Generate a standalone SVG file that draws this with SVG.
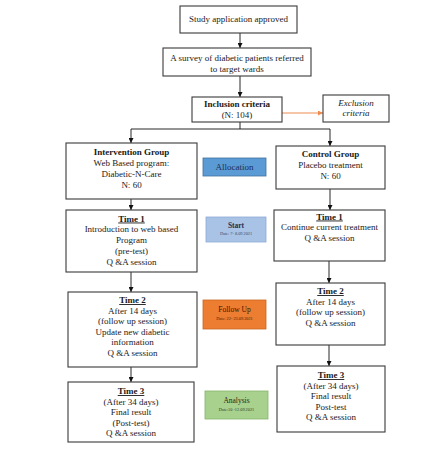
<svg xmlns="http://www.w3.org/2000/svg" width="423" height="457" viewBox="0 0 423 457">
<defs>
<style>
text{font-family:"Liberation Serif","Times New Roman",serif;font-size:9px;fill:#1a1a1a;text-anchor:middle}
.box{fill:#fff;stroke:#3a3a3a;stroke-width:1.1}
.b{font-weight:bold}
.u{font-weight:bold;text-decoration:underline}
.i{font-style:italic}
.c{fill:none;stroke:#111;stroke-width:0.9}
.lab{font-size:7.5px}
.date{font-size:4.3px}
</style>
<marker id="ah" viewBox="0 0 6 6" refX="6" refY="3" markerWidth="5" markerHeight="5" markerUnits="userSpaceOnUse" orient="auto"><path d="M0,0L6,3L0,6z" fill="#111"/></marker>
<marker id="aho" viewBox="0 0 6 6" refX="6" refY="3" markerWidth="5" markerHeight="5" markerUnits="userSpaceOnUse" orient="auto"><path d="M0,0L6,3L0,6z" fill="#ee8a4e"/></marker>
</defs>
<rect width="423" height="457" fill="#fff"/>
<g id="connectors">
<line class="c" x1="240" y1="33" x2="240" y2="48" marker-end="url(#ah)"/>
<line class="c" x1="240" y1="76" x2="240" y2="97" marker-end="url(#ah)"/>
<line x1="282" y1="113" x2="323" y2="113" stroke="#ee8a4e" stroke-width="1" marker-end="url(#aho)"/>
<polyline class="c" points="240,122 240,129"/>
<polyline class="c" points="131,129 330,129"/>
<line class="c" x1="131" y1="129" x2="131" y2="143" marker-end="url(#ah)"/>
<line class="c" x1="330" y1="129" x2="330" y2="146" marker-end="url(#ah)"/>
<line class="c" x1="131" y1="199" x2="131" y2="210" marker-end="url(#ah)"/>
<line class="c" x1="330" y1="189" x2="330" y2="210" marker-end="url(#ah)"/>
<line class="c" x1="131" y1="272" x2="131" y2="292" marker-end="url(#ah)"/>
<line class="c" x1="329" y1="261" x2="329" y2="283" marker-end="url(#ah)"/>
<line class="c" x1="131" y1="367" x2="131" y2="382" marker-end="url(#ah)"/>
<line class="c" x1="329" y1="345" x2="329" y2="366" marker-end="url(#ah)"/>
</g>
<g id="study">
<rect class="box" x="180" y="6" width="117" height="27"/>
<text x="238.5" y="22">Study application approved</text>
</g>
<g id="survey">
<rect class="box" x="163" y="48" width="148" height="28"/>
<text x="237" y="61">A survey of diabetic patients referred</text>
<text x="237" y="72">to target wards</text>
</g>
<g id="inclusion">
<rect class="box" x="192" y="97" width="90" height="25"/>
<text class="b" x="237" y="107">Inclusion criteria</text>
<text x="237" y="118">(N: 104)</text>
</g>
<g id="exclusion">
<rect class="box" x="323" y="95" width="66" height="27"/>
<text class="i" x="356" y="105.5">Exclusion</text>
<text class="i" x="356" y="116">criteria</text>
</g>
<g id="intervention">
<rect class="box" x="66" y="143" width="131" height="56"/>
<text class="b" x="131.5" y="155">Intervention Group</text>
<text x="131.5" y="166">Web Based program:</text>
<text x="131.5" y="177">Diabetic-N-Care</text>
<text x="131.5" y="188">N: 60</text>
</g>
<g id="allocation">
<rect x="203" y="158" width="63" height="18" fill="#5b9bd5" stroke="#41719c" stroke-width="0.8"/>
<text x="234.5" y="170" fill="#1c2f55" style="fill:#1c2f55">Allocation</text>
</g>
<g id="control">
<rect class="box" x="276" y="146" width="109" height="43"/>
<text class="b" x="330.5" y="157">Control Group</text>
<text x="330.5" y="168">Placebo treatment</text>
<text x="330.5" y="179">N: 60</text>
</g>
<g id="int-time1">
<rect class="box" x="66" y="210" width="131" height="62"/>
<text class="u" x="131.5" y="221.5">Time 1</text>
<text x="131.5" y="232">Introduction to web based</text>
<text x="131.5" y="243">Program</text>
<text x="131.5" y="254">(pre-test)</text>
<text x="131.5" y="265">Q &amp;A session</text>
</g>
<g id="start">
<rect x="206" y="217" width="60" height="25" fill="#a9c3e6" stroke="#8eaad6" stroke-width="0.8"/>
<text class="lab b" x="236" y="228" style="fill:#1c2f55">Start</text>
<text class="date" x="236" y="235" style="fill:#3c4a66">Date: 7- 8.09.2021</text>
</g>
<g id="ctl-time1">
<rect class="box" x="274" y="210" width="111" height="51"/>
<text class="u" x="329.5" y="219.5">Time 1</text>
<text x="329.5" y="230">Continue current treatment</text>
<text x="329.5" y="240.5">Q &amp;A session</text>
</g>
<g id="int-time2">
<rect class="box" x="68" y="292" width="129" height="75"/>
<text class="u" x="132.5" y="303">Time 2</text>
<text x="132.5" y="313.6">After 14 days</text>
<text x="132.5" y="324.2">(follow up session)</text>
<text x="132.5" y="334.8">Update new diabetic</text>
<text x="132.5" y="345.4">information</text>
<text x="132.5" y="356">Q &amp;A session</text>
</g>
<g id="followup">
<rect x="203" y="300" width="63" height="29" fill="#ed7d31" stroke="#c8651f" stroke-width="0.8"/>
<text class="lab" x="234.5" y="312" style="fill:#3a1700">Follow Up</text>
<text class="date" x="234.5" y="319.5" style="fill:#4a2000">Date: 22- 23.09.2021</text>
</g>
<g id="ctl-time2">
<rect class="box" x="276" y="283" width="109" height="62"/>
<text class="u" x="330.5" y="294">Time 2</text>
<text x="330.5" y="304.5">After 14 days</text>
<text x="330.5" y="315">(follow up session)</text>
<text x="330.5" y="325.5">Q &amp;A session</text>
</g>
<g id="int-time3">
<rect class="box" x="68" y="382" width="126" height="60"/>
<text class="u" x="131" y="394">Time 3</text>
<text x="131" y="405">(After 34 days)</text>
<text x="131" y="415">Final result</text>
<text x="131" y="426">(Post-test)</text>
<text x="131" y="436">Q &amp;A session</text>
</g>
<g id="analysis">
<rect x="205" y="391" width="63" height="28" fill="#a9d18e" stroke="#86b36a" stroke-width="0.8"/>
<text class="lab" x="236.5" y="403" style="fill:#1e2a14">Analysis</text>
<text class="date" x="236.5" y="410.5" style="fill:#2e3a24">Date:10 -12.09.2021</text>
</g>
<g id="ctl-time3">
<rect class="box" x="277" y="366" width="108" height="66"/>
<text class="u" x="331" y="378">Time 3</text>
<text x="331" y="388.5">(After 34 days)</text>
<text x="331" y="399">Final result</text>
<text x="331" y="409.5">Post-test</text>
<text x="331" y="420">Q &amp;A session</text>
</g>
</svg>
